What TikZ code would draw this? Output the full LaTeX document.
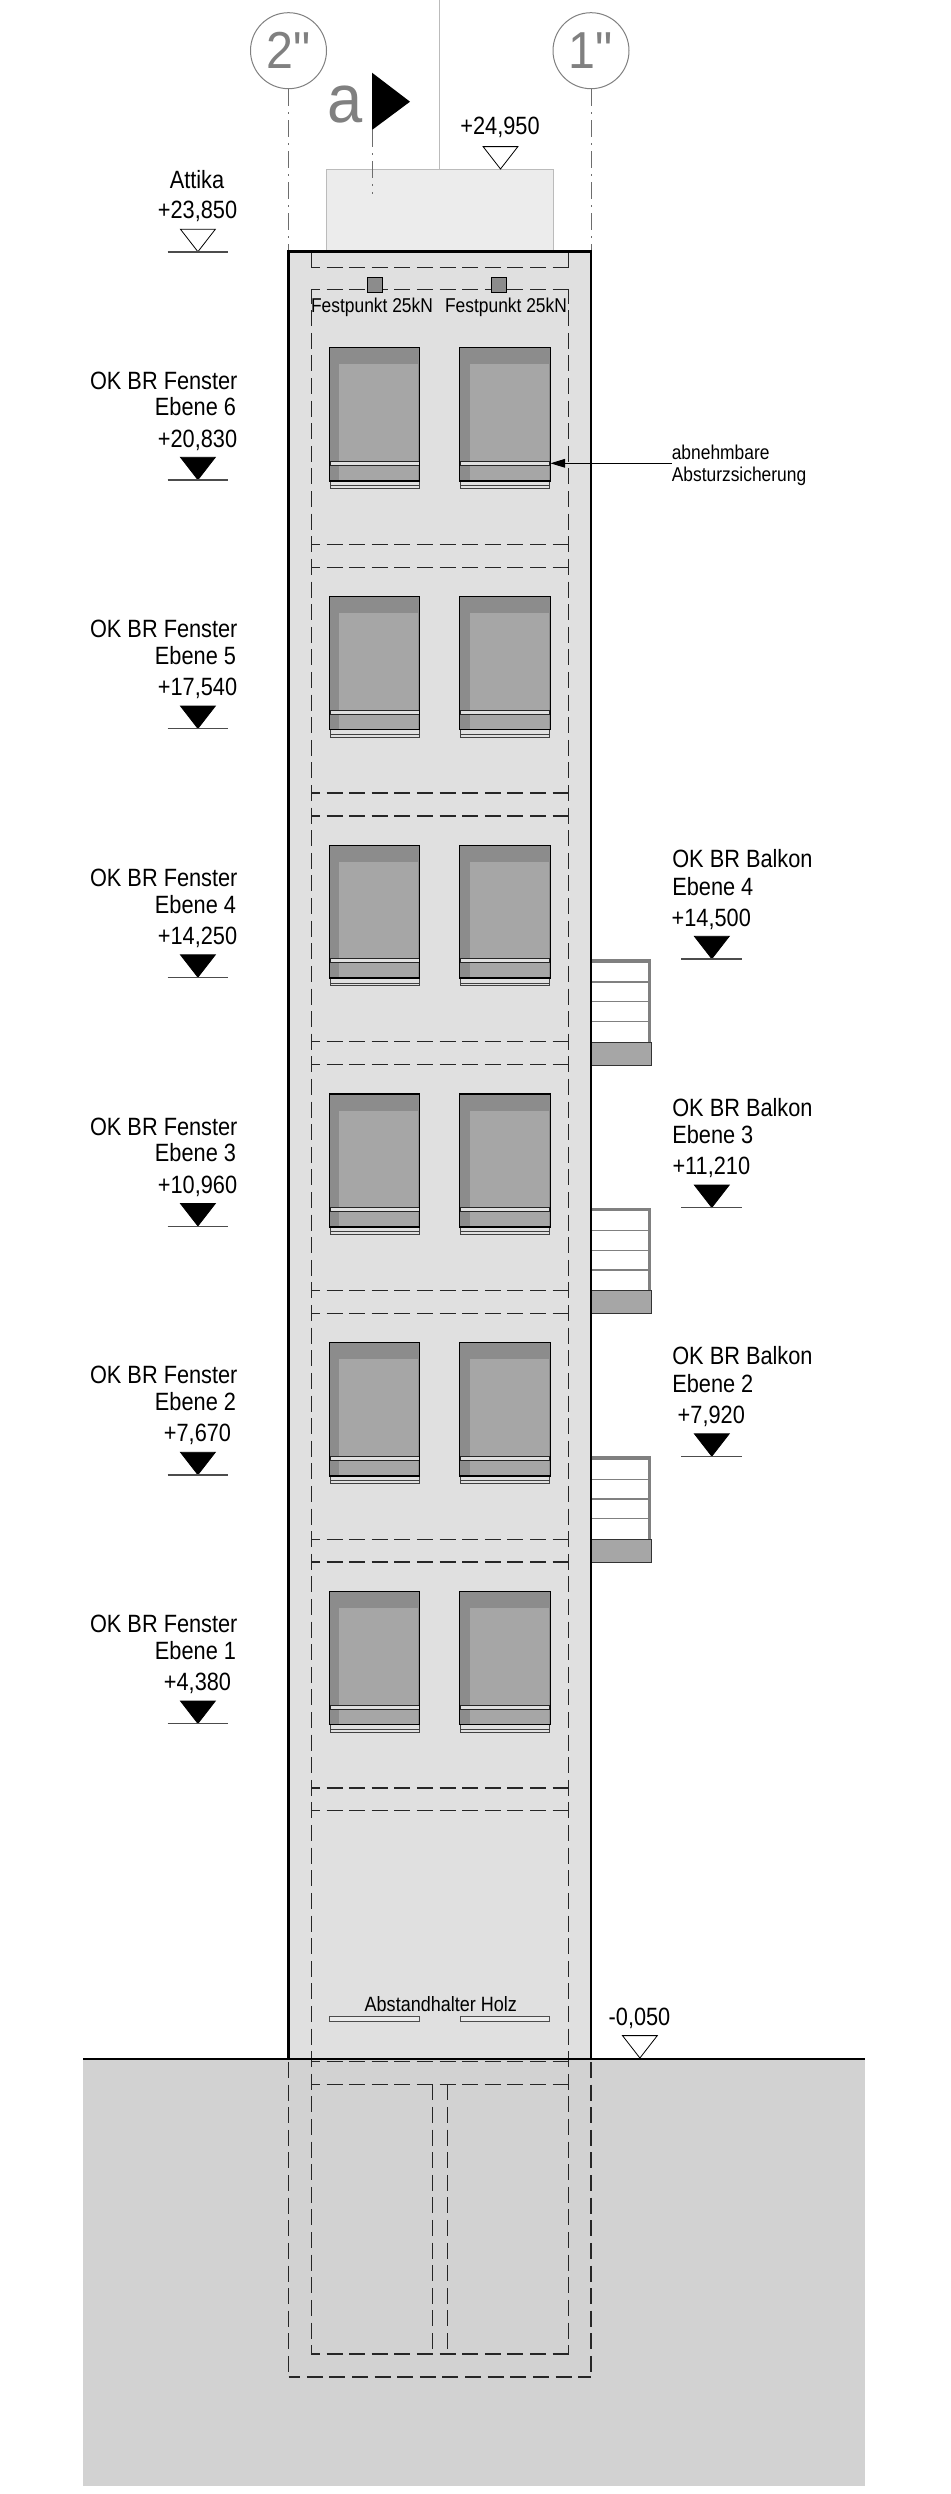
\documentclass[tikz,border=0pt]{standalone}
\usepackage{fontspec}
\setmainfont[FakeStretch=0.87]{Liberation Sans}
\newfontfamily\axisfont[FakeStretch=0.93]{Liberation Sans}
\usetikzlibrary{arrows.meta}
\definecolor{wall}{HTML}{E0E0E0}
\definecolor{soil}{HTML}{D2D2D2}
\definecolor{attic}{HTML}{ECECEC}
\definecolor{atticline}{HTML}{BBBBBB}
\definecolor{windark}{HTML}{8C8C8C}
\definecolor{winlight}{HTML}{A6A6A6}
\definecolor{gridgrey}{HTML}{808080}
\newcommand{\lbl}{\fontsize{25}{28}\selectfont}
\newcommand{\sml}{\fontsize{20}{22}\selectfont}
\tikzset{
  txt/.style={inner sep=0pt,outer sep=0pt,text=black,font=\lbl},
  stxt/.style={inner sep=0pt,outer sep=0pt,text=black,font=\sml},
  hidden/.style={draw=black!85,line width=1.1pt,dash pattern=on 16pt off 6.61pt},
  gridline/.style={draw=gridgrey!85!black,line width=1pt,dash pattern=on 17pt off 6pt on 2pt off 6pt},
  axisc/.style={circle,draw=gridgrey,line width=1pt,fill=white,minimum size=76pt,inner sep=0pt,text=gridgrey,font=\axisfont\fontsize{52}{56}\selectfont},
  levelline/.style={draw=black!70,line width=1.1pt},
  open/.style={draw=black,line width=.8pt,fill=white},
  solidm/.style={draw=black,line width=.8pt,fill=black},
}
\newcommand{\lvlmark}[4]{%
  \path[#4] (#1-17.4,#2-22.4) -- (#1+17.4,#2-22.4) -- (#1,#2) -- cycle;
  \ifdim #3pt>0pt \draw[levelline] (#1-#3,#2+.3) -- (#1+#3,#2+.3);\fi}
\newcommand{\winshape}[2]{%
  \fill[windark] (#1,347.7) rectangle (#2,480.7);
  \fill[winlight] (#1+10,364.3) rectangle (#2-1.4,480.7);
  \fill[white!88!black] (#1+.7,480.7) rectangle (#2-.7,488.3);
  \draw[black!75,line width=.7pt] (#1+.7,480.7) rectangle (#2-.7,488.3);
  \draw[black!75,line width=.7pt] (#1+.7,485.4) -- (#2-.7,485.4);
  \draw[black!85,line width=.7pt,fill=wall] (#1+.7,461.3) rectangle (#2-.7,465.3);
  \draw[black,line width=1.3pt] (#1,347.7) rectangle (#2,480.7);
  \draw[black,line width=1.8pt] (#1-.5,480.7) -- (#2+.5,480.7);}
\begin{document}
\begin{tikzpicture}[x=1pt,y=-1pt]
\useasboundingbox (0,0) rectangle (950,2494);
\fill[white] (0,0) rectangle (950,2494);
% soil and attic
\fill[soil] (83,2058.7) rectangle (865,2486);
\draw[atticline,line width=1pt] (439.6,0) -- (439.6,169);
\draw[atticline,line width=1pt,fill=attic] (326.4,251.7) -- (326.4,169) -- (553.3,169) -- (553.3,251.7);
% wall
\fill[wall] (288.7,251.7) rectangle (590.8,2058.7);
% grid axes
\node[axisc] (axisB) at (288.5,50.7) {2"};
\node[axisc] (axisA) at (591,50.7) {1"};
\coordinate (axisBend) at (288.5,251);
\coordinate (axisAend) at (591,251);
\draw[gridline] (axisB.south) -- (axisBend);
\draw[gridline] (axisA.south) -- (axisAend);
% section mark
\node[inner sep=0pt,text=gridgrey,font=\axisfont\fontsize{68}{70}\selectfont,anchor=base] (seca) at (345,122.7) {a};
\fill[black] (372,72.7) -- (410,101.7) -- (372,130) -- cycle;
\coordinate (secTop) at (372,130);
\coordinate (secEnd) at (372,194);
\draw[gridline] (secTop) -- (secEnd);
% top hidden lines
\draw[black!85,line width=1.1pt] (311.4,251.7) -- (311.4,267.3);
\draw[black!85,line width=1.1pt] (568.5,251.7) -- (568.5,267.3);
\draw[hidden,dash phase=7.5pt] (311.4,267.3) -- (568.5,267.3);
% hidden verticals run through all panels
\draw[hidden,dash phase=2.1pt] (311.4,289.7) -- (311.4,2354);
\draw[hidden,dash phase=2.1pt] (568.5,289.7) -- (568.5,2354);
% hidden horizontals
\foreach \yy in {289.7,544.3,567.3,793,816,1041.8,1064.8,1290.5,1313.5,1539.3,1562,1788,1810.7,2061.7,2084.3,2354}{
  \draw[hidden,dash phase=7.5pt] (311.4,\yy) -- (568.5,\yy);
}
% fixing points
\foreach \xx in {367,491.3}{
  \draw[black,line width=.9pt,fill=windark] (\xx,277.3) rectangle (\xx+15.6,292.7);
}
\node[stxt,anchor=base] (fest1) at (372,312) {Festpunkt 25kN};
\node[stxt,anchor=base] (fest2) at (506,312) {Festpunkt 25kN};
% windows with window-sill levels
\foreach \k/\n/\v in {0/6/{+20,830},1/5/{+17,540},2/4/{+14,250},3/3/{+10,960},4/2/{+7,670},5/1/{+4,380}}{
  \pgfmathsetmacro\dy{\k*248.74}
  \begin{scope}[shift={(0,\dy)}]
    \winshape{329.3}{419.6}
    \winshape{459.6}{550.4}
    \node[txt,anchor=base east] (fa\n) at (237.5,389) {OK BR Fenster};
    \node[txt,anchor=base east] (fb\n) at (236,415.6) {Ebene \n};
    \node[txt,anchor=base] (fc\n) at (197.5,447) {\v};
    \lvlmark{197.9}{479.7}{30.4}{solidm}
  \end{scope}
}
% balconies
\foreach \k/\n/\v in {0/4/{+14,500},1/3/{+11,210},2/2/{+7,920}}{
  \pgfmathsetmacro\dy{\k*248.74}
  \begin{scope}[shift={(0,\dy)}]
    \fill[gridgrey] (591,959) rectangle (651.3,962.7);
    \fill[gridgrey] (648.3,959) rectangle (651.3,1042);
    \foreach \yy in {982,1001.7,1021.3}{\draw[gridgrey,line width=1.4pt] (591,\yy) -- (650,\yy);}
    \draw[black!80,line width=1pt,fill=winlight] (591,1042) rectangle (651.3,1065);
    \node[txt,anchor=base west] (ba\n) at (672.3,867.3) {OK BR Balkon};
    \node[txt,anchor=base west] (bb\n) at (672.3,895) {Ebene \n};
    \node[txt,anchor=base] (bc\n) at (711.3,926) {\v};
    \lvlmark{711.8}{958.7}{30.5}{solidm}
  \end{scope}
}
% building outline
\draw[black,line width=2.6pt] (288.7,2058.7) -- (288.7,251.7) -- (590.8,251.7) -- (590.8,2058.7);
% spacers
\node[stxt,anchor=base] (spacer) at (440.8,2011) {\fontsize{20.7}{22}\selectfont Abstandhalter Holz};
\draw[black!70,line width=.9pt,fill=white!92!black] (329.7,2016.3) rectangle (419,2021.3);
\draw[black!70,line width=.9pt,fill=white!92!black] (460.3,2016.3) rectangle (549.7,2021.3);
% hidden lines below ground
\draw[hidden] (432.3,2084.3) -- (432.3,2354);
\draw[hidden] (447.3,2084.3) -- (447.3,2354);
\draw[hidden] (288.5,2062) -- (288.5,2377);
\draw[hidden] (591,2062) -- (591,2377);
\draw[hidden,dash phase=4.3pt] (288.5,2377) -- (591,2377);
% ground line
\draw[black,line width=2.4pt] (83,2058.7) -- (865,2058.7);
% open level marks
\node[txt,anchor=base] (top) at (500,135) {+24,950};
\lvlmark{500.5}{169}{0}{open}
\node[txt,anchor=base] (attika) at (197,188) {Attika};
\node[txt,anchor=base] (attikav) at (197.5,218.3) {+23,850};
\lvlmark{197.9}{251.7}{30.4}{open}
\node[txt,anchor=base] (zero) at (639.5,2025.7) {-0,050};
\lvlmark{639.9}{2058}{0}{open}
% railing note
\node[stxt,anchor=base west] (note1) at (671.8,459) {abnehmbare};
\node[stxt,anchor=base west] (note2) at (671.8,481.7) {Absturzsicherung};
\coordinate (noteStart) at (671.8,463.3);
\coordinate (railTip) at (550.4,463.3);
\draw[black,line width=1pt,-{Triangle[length=14.6pt,width=8.6pt]}] (noteStart) -- (railTip);
\end{tikzpicture}
\end{document}
